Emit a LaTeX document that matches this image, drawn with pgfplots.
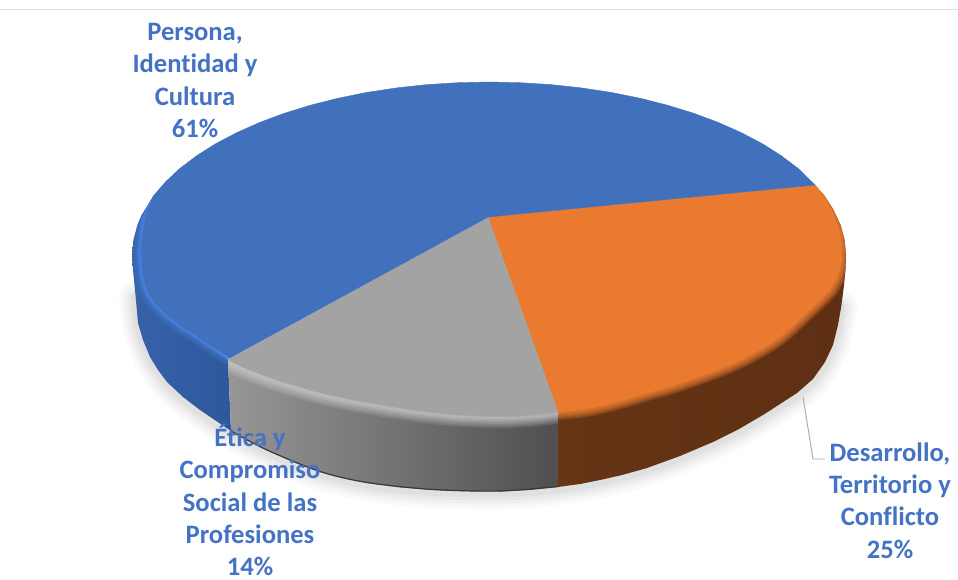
\documentclass[border=0pt]{standalone}
\usepackage{pgfplots}
\usepackage{pgfplotstable}
\usepackage{fontspec}
\setmainfont[Ligatures=NoCommon]{Carlito}
\pgfplotsset{compat=1.18}
\definecolor{cblue}{HTML}{4170BD}
\definecolor{corange}{HTML}{E97A30}
\definecolor{cgray}{HTML}{A3A3A3}
\definecolor{ctext}{HTML}{4472C4}
\definecolor{bsl}{HTML}{3762AA}\definecolor{bsr}{HTML}{2E589B}
\definecolor{osl}{HTML}{663514}\definecolor{osm}{HTML}{5E2F13}
\definecolor{b1}{HTML}{3F6FBD}\definecolor{b2}{HTML}{4479D4}\definecolor{b3}{HTML}{4A80E0}
\pgfplotstableread{
x y
135 295
138 323
143 340
150 357
158 370
167 382
183 397
200 410
231 431
248 441
267 450
293 462
320 472
343 478
367 483
400 487.5
433 490
467 491.2
500 491.5
530 490
558 487
580 484
600 480
622 475
647 468
680 456
713 442
739 429
763 415
797 393
813 379
825 362
833 345
838 325
841.5 305
}\shadowline
\pgfplotstableread{
x y
153.5 195.8
146 215
143 232
141 250
141.5 262
143 275
147 290
155 303
167 315
183 327
200 338
215 348
230 358
}\bluearc
\pgfplotstableread{
x y
228 360
246 368.5
265 376
283 382
300 387
315 391.5
330 395
348 399
367 402.5
384 405.5
400 408
416 410.5
433 412.5
457 415
480 416
500 416.5
520 416
540 414.5
558 412
}\grayarc
\pgfplotstableread{
x y
558 412
583 409.5
605 405
626 399.5
647 393
669 387
690 380
711 372.5
730 365
744 358.5
756 352
769 344.5
780 337
789 329.5
797 322
805 314.5
813 307
822 298.5
830 290
837 278
841 265
842 250
840 232
833 213
824.5 197
815 185
}\orangearc
\begin{document}
\begin{tikzpicture}
\path[use as bounding box] (0,0) rectangle (958pt,579pt);
\begin{axis}[
  width=958pt, height=579pt, scale only axis, hide axis,
  xmin=0, xmax=958, ymin=0, ymax=579, y dir=reverse, clip=false,
  every axis plot/.append style={no markers, line join=round},
]
% frame line
\addplot[draw=black!12, line width=1.8pt] coordinates {(0,9.5) (958,9.5)};
% soft shadow
\addplot[smooth, draw=black, opacity=.018, line cap=round, line width=32pt] table[y expr=\thisrow{y}+2] {\shadowline};
\addplot[smooth, draw=black, opacity=.02, line cap=round, line width=26pt] table[y expr=\thisrow{y}+2] {\shadowline};
\addplot[smooth, draw=black, opacity=.025, line cap=round, line width=20pt] table[y expr=\thisrow{y}+2] {\shadowline};
\addplot[smooth, draw=black, opacity=.03, line cap=round, line width=14pt] table[y expr=\thisrow{y}+2] {\shadowline};
\addplot[smooth, draw=black, opacity=.035, line cap=round, line width=8pt] table[y expr=\thisrow{y}+2] {\shadowline};
% blue side
\addplot[draw=none, left color=bsl, right color=bsr] coordinates {
 (153.5,195.8) (141.6,215) (137.4,225) (133.4,240) (132,255) (133,270) (135,290) (138,323) (143,340) (150,357)
 (158,370) (167,382) (183,397) (200,410) (231,431) (228,360) (215,348) (200,338) (183,327) (167,315) (155,303) (147,290) (143,275) (141.5,262) (141,250) (143,232) (146,215)} -- cycle;
% orange side
\addplot[draw=none, left color=osl, middle color=osm, right color=osm] coordinates {
 (815,185) (824.5,195.8) (833,209) (840.6,225) (844.6,240) (846,255) (845.5,270) (844,285) (841.5,305) (838,325) (833,345) (825,362) (813,379)
 (797,393) (763,415) (739,429) (713,442) (680,456) (647,468) (622,475) (600,480) (580,484) (558,487) (558,412) (583,409.5) (605,405) (626,399.5) (647,393) (669,387) (690,380) (711,372.5) (730,365) (744,358.5) (756,352)
 (769,344.5) (780,337) (789,329.5) (797,322) (805,314.5) (813,307) (822,298.5) (830,290) (837,278) (841,265) (842,250) (840,232) (833,213) (824.5,197)} -- cycle;
% gray side
\addplot[draw=none, left color=black!41, middle color=black!60, right color=black!69] coordinates {
 (228,360) (246,368.5) (265,376) (283,382) (300,387) (315,391.5) (330,395) (348,399) (367,402.5) (384,405.5) (400,408) (416,410.5) (433,412.5) (457,415) (480,416) (500,416.5) (520,416) (540,414.5) (558,412)
 (558,487) (530,490) (500,491.5) (467,491.2) (433,490) (400,487.5) (367,483) (343,478) (320,472) (293,462) (267,450) (248,441) (231,431)} -- cycle;
\addplot[smooth, draw=black!78, line width=1.2pt] coordinates {(231,431) (267,450) (320,471.5) (367,482.5) (433,489.5) (500,491) (558,486.5)};
% bevels, kept inside the pie
\begin{scope}
\clip (axis cs:132,255) -- (axis cs:137.4,225) -- (axis cs:153.5,195.8) -- (axis cs:179.8,168.5) -- (axis cs:489,82) -- (axis cs:798.2,168.5) -- (axis cs:815,185) -- (axis cs:824.5,195.8) -- (axis cs:833,209) -- (axis cs:840.6,225) -- (axis cs:844.6,240) -- (axis cs:846,255) -- (axis cs:844,285) -- (axis cs:838,325) -- (axis cs:825,362) -- (axis cs:797,393) -- (axis cs:713,442) -- (axis cs:558,487) -- (axis cs:433,490) -- (axis cs:231,431) -- (axis cs:150,357) -- (axis cs:135,290) -- cycle;
\addplot[smooth, draw=b1, opacity=.3, line width=18pt, line cap=butt] table {\bluearc};
\addplot[smooth, draw=b1, opacity=.4, line width=14pt, line cap=butt] table {\bluearc};
\addplot[smooth, draw=b2, opacity=.5, line width=9pt, line cap=butt] table {\bluearc};
\addplot[smooth, draw=b3, opacity=.8, line width=5pt, line cap=butt] table {\bluearc};
\addplot[smooth, draw=corange, opacity=.25, line width=16pt, line cap=butt] table {\orangearc};
\addplot[smooth, draw=corange, opacity=.25, line width=13pt, line cap=butt] table {\orangearc};
\addplot[smooth, draw=corange, opacity=.3, line width=10pt, line cap=butt] table {\orangearc};
\addplot[smooth, draw=corange, opacity=.35, line width=7pt, line cap=butt] table {\orangearc};
\addplot[smooth, draw=corange, opacity=.4, line width=4pt, line cap=butt] table {\orangearc};
\begin{scope}
\clip (axis cs:228,300) rectangle (axis cs:558,500);
\addplot[smooth, draw=black!20, opacity=.16, line width=23pt, line cap=butt] table {\grayarc};
\addplot[smooth, draw=black!20, opacity=.2, line width=19pt, line cap=butt] table {\grayarc};
\addplot[smooth, draw=black!20, opacity=.22, line width=15pt, line cap=butt] table {\grayarc};
\addplot[smooth, draw=black!20, opacity=.25, line width=11pt, line cap=butt] table {\grayarc};
\addplot[smooth, draw=black!22, opacity=.3, line width=8pt, line cap=butt] table {\grayarc};
\addplot[smooth, draw=black!24, opacity=.35, line width=5pt, line cap=butt] table {\grayarc};
\end{scope}
\end{scope}
% top faces
\addplot[draw=corange, line width=.4pt, fill=corange] coordinates {
 (488,217) (815,185) (824.5,197) (833,213) (840,232) (842,250) (841,265) (837,278) (830,290) (822,298.5) (813,307) (805,314.5) (797,322)
 (789,329.5) (780,337) (769,344.5) (756,352) (744,358.5) (730,365) (711,372.5) (690,380) (669,387) (647,393) (626,399.5) (605,405) (583,409.5) (558,412)} -- cycle;
\addplot[draw=cgray, line width=.4pt, fill=cgray] coordinates {
 (488,217) (558,412) (540,414.5) (520,416) (500,416.5) (480,416) (457,415) (433,412.5) (416,410.5) (400,408) (384,405.5) (367,402.5) (348,399) (330,395) (315,391.5) (300,387) (283,382) (265,376) (246,368.5) (228,360)} -- cycle;
\addplot[draw=cblue, line width=.4pt, fill=cblue] coordinates {
 (488,217) (230,358) (215,348) (200,338) (183,327) (167,315) (155,303) (147,290) (143,275) (141.5,262) (141,250) (143,232) (146,215) (153.5,195.8)
 (165.5,181.9) (179.8,168.5) (196.6,155.8) (215.5,143.8) (236.6,132.7) (259.5,122.5) (284.2,113.3) (310.5,105.2) (338.1,98.2) (366.9,92.4) (396.6,87.9) (427,84.6) (457.9,82.7) (489,82) (520.1,82.7) (551,84.6)
 (581.4,87.9) (611.1,92.4) (639.9,98.2) (667.5,105.2) (693.8,113.3) (718.5,122.5) (741.4,132.7) (762.5,143.8) (781.4,155.8) (798.2,168.5) (815,185)} -- cycle;
% leader line
\addplot[draw=black!35, line width=.9pt] coordinates {(803,397) (813,459) (825,459)};
% labels
\node[text=ctext, font=\fontsize{26.6}{32.4}\selectfont\bfseries, align=center] at (axis cs:195,80.5) {Persona,\\Identidad y\\Cultura\\61\%};
\node[text=ctext, font=\fontsize{26.6}{32.4}\selectfont\bfseries, align=center] at (axis cs:250,500) {Ética y\\Compromiso\\Social de las\\Profesiones\\14\%};
\node[text=ctext, font=\fontsize{26.6}{32.4}\selectfont\bfseries, align=center] at (axis cs:890,500.5) {Desarrollo,\\Territorio y\\Conflicto\\25\%};
\end{axis}
\end{tikzpicture}
\end{document}
